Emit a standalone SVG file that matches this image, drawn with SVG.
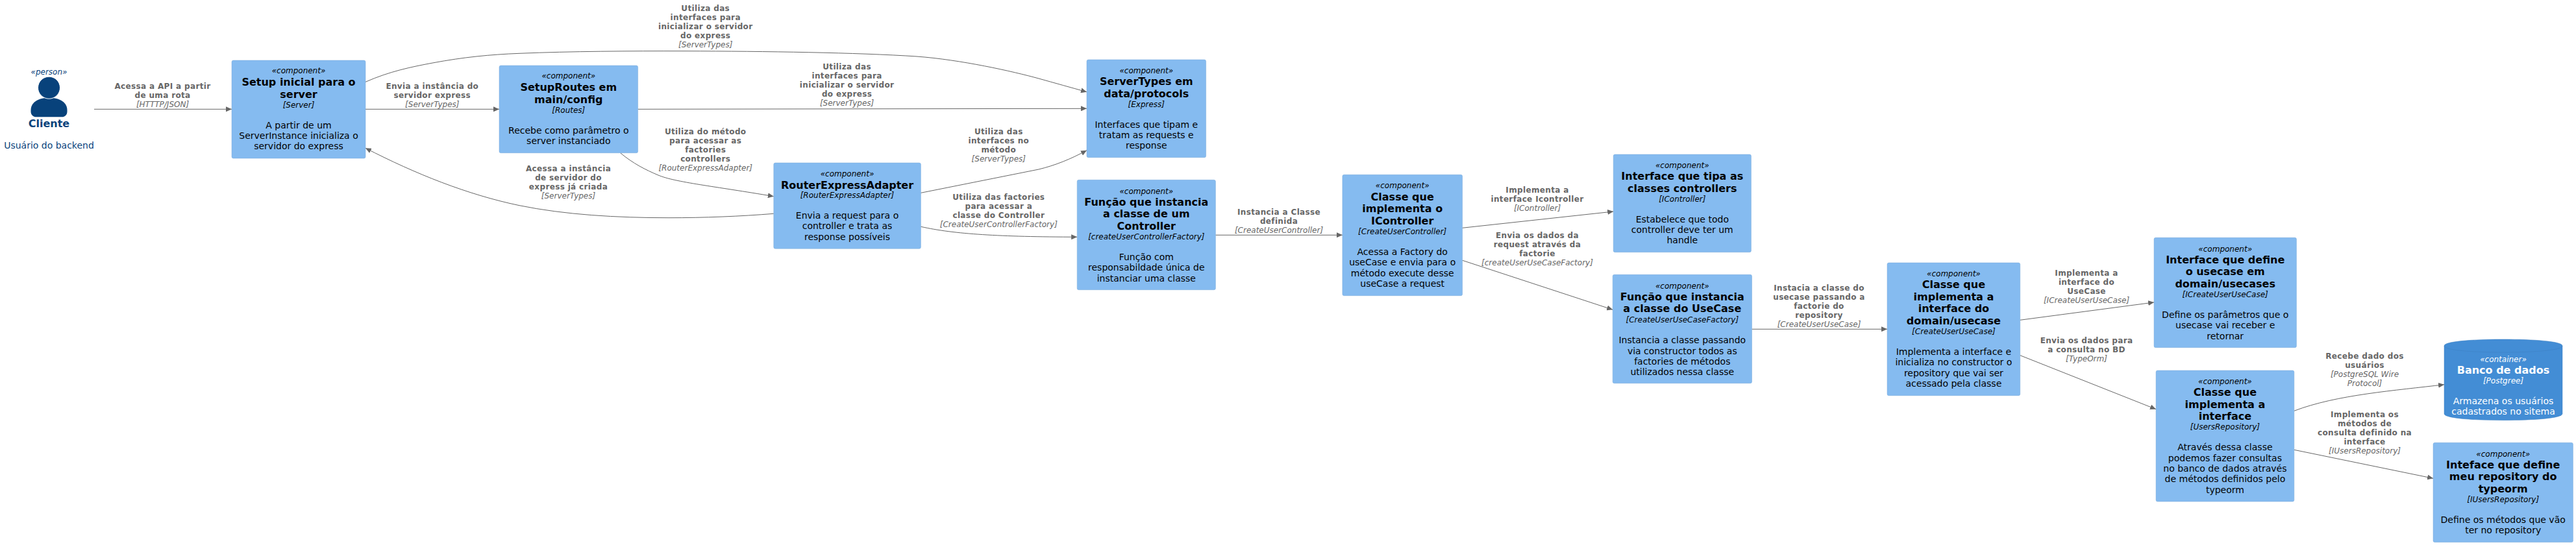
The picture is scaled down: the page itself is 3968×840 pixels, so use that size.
<svg xmlns="http://www.w3.org/2000/svg" width="3968" height="840" viewBox="0 0 3968 840">
<style>
text{font-family:"DejaVu Sans",sans-serif;text-anchor:middle;fill:#000}
.st{font-size:12px;font-style:italic}
.ti{font-size:16px;font-weight:bold}
.de{font-size:14px}
.lb{font-size:12px;font-weight:bold;fill:#666;letter-spacing:.35px}
.lt{font-size:12px;font-style:italic;fill:#666}
.box{fill:#85BBF0;stroke:#78A8D8;stroke-width:.5}
.w text{fill:#fff}
.p text{fill:#08427B}
.c{fill:none;stroke:#666;stroke-width:1}
</style>
<defs>
<marker id="a" markerUnits="userSpaceOnUse" markerWidth="10" markerHeight="8" refX="9" refY="4" orient="auto"><path d="M0 0L9 4L0 8z" fill="#666"/></marker>
</defs>
<rect width="3968" height="840" fill="#fff"/>
<g id="connectors" class="conns">
<path class="c" marker-end="url(#a)" d="M145 168.3H357"/>
<path class="c" marker-end="url(#a)" d="M563 168.3H769"/>
<path class="c" marker-end="url(#a)" d="M563 126.3C600 110 633 103.2 668 96.7C713 88.3 755 84 800 82.3C880 79 970 78.5 1055 78.7C1180 79 1320 81 1412 87C1480 92 1560 110 1600 121C1625 128 1650 135 1674 141.7"/>
<path class="c" marker-end="url(#a)" d="M982.6 168.3L1674 167.3"/>
<path class="c" marker-end="url(#a)" d="M1191.8 329.3C1140 333.5 1085 335.7 1030 335.7C950 335.7 870 331 800 316.7C720 300 640 268 563 228.3"/>
<path class="c" marker-end="url(#a)" d="M955.6 235.7C975 252 995 262 1014 270C1040 281 1100 287 1191.8 302.7"/>
<path class="c" marker-end="url(#a)" d="M1418.4 297.3L1600 261C1625 255 1650 245 1674 231.7"/>
<path class="c" marker-end="url(#a)" d="M1418.4 349.3C1470 361 1540 365 1659.2 365.3"/>
<path class="c" marker-end="url(#a)" d="M1872.4 362.3H2067.9"/>
<path class="c" marker-end="url(#a)" d="M2252.6 351.3L2485.2 326"/>
<path class="c" marker-end="url(#a)" d="M2252.6 401.3L2484.2 477.3"/>
<path class="c" marker-end="url(#a)" d="M2698.5 507.3H2907"/>
<path class="c" marker-end="url(#a)" d="M3111.7 493.3L3318 466"/>
<path class="c" marker-end="url(#a)" d="M3111.7 547.7L3321 630.7"/>
<path class="c" marker-end="url(#a)" d="M3533.8 633.3C3600 608 3690 602 3765 592.7"/>
<path class="c" marker-end="url(#a)" d="M3533.8 693.3L3748 737.3"/>
</g>
<g id="labels">
<g><text class="lb" x="250.5" y="136.7">Acessa a API a partir</text><text class="lb" x="250.5" y="150.7">de uma rota</text><text class="lt" x="250.5" y="164.7">[HTTTP/JSON]</text></g>
<g><text class="lb" x="665.8" y="136.7">Envia a instância do</text><text class="lb" x="665.8" y="150.7">servidor express</text><text class="lt" x="665.8" y="164.7">[ServerTypes]</text></g>
<g><text class="lb" x="1086.7" y="17.3">Utiliza das</text><text class="lb" x="1086.7" y="31.3">interfaces para</text><text class="lb" x="1086.7" y="45.3">inicializar o servidor</text><text class="lb" x="1086.7" y="59.3">do express</text><text class="lt" x="1086.7" y="73.3">[ServerTypes]</text></g>
<g><text class="lb" x="1304.6" y="107.3">Utiliza das</text><text class="lb" x="1304.6" y="121.3">interfaces para</text><text class="lb" x="1304.6" y="135.3">inicializar o servidor</text><text class="lb" x="1304.6" y="149.3">do express</text><text class="lt" x="1304.6" y="163.3">[ServerTypes]</text></g>
<g><text class="lb" x="875.5" y="264.3">Acessa a instância</text><text class="lb" x="875.5" y="278.3">de servidor do</text><text class="lb" x="875.5" y="292.3">express já criada</text><text class="lt" x="875.5" y="306.3">[ServerTypes]</text></g>
<g><text class="lb" x="1086.7" y="207.3">Utiliza do método</text><text class="lb" x="1086.7" y="221.3">para acessar as</text><text class="lb" x="1086.7" y="235.3">factories</text><text class="lb" x="1086.7" y="249.3">controllers</text><text class="lt" x="1086.7" y="263.3">[RouterExpressAdapter]</text></g>
<g><text class="lb" x="1538.3" y="207.3">Utiliza das</text><text class="lb" x="1538.3" y="221.3">interfaces no</text><text class="lb" x="1538.3" y="235.3">método</text><text class="lt" x="1538.3" y="249.3">[ServerTypes]</text></g>
<g><text class="lb" x="1538.3" y="308.3">Utiliza das factories</text><text class="lb" x="1538.3" y="322.3">para acessar a</text><text class="lb" x="1538.3" y="336.3">classe do Controller</text><text class="lt" x="1538.3" y="350.3">[CreateUserControllerFactory]</text></g>
<g><text class="lb" x="1970" y="330.7">Instancia a Classe</text><text class="lb" x="1970" y="344.7">definida</text><text class="lt" x="1970" y="358.7">[CreateUserController]</text></g>
<g><text class="lb" x="2368" y="296.7">Implementa a</text><text class="lb" x="2368" y="310.7">interface Icontroller</text><text class="lt" x="2368" y="324.7">[IController]</text></g>
<g><text class="lb" x="2368" y="366.7">Envia os dados da</text><text class="lb" x="2368" y="380.7">request através da</text><text class="lb" x="2368" y="394.7">factorie</text><text class="lt" x="2368" y="408.7">[createUserUseCaseFactory]</text></g>
<g><text class="lb" x="2802" y="447.7">Instacia a classe do</text><text class="lb" x="2802" y="461.7">usecase passando a</text><text class="lb" x="2802" y="475.7">factorie do</text><text class="lb" x="2802" y="489.7">repository</text><text class="lt" x="2802" y="503.7">[CreateUserUseCase]</text></g>
<g><text class="lb" x="3214" y="424.7">Implementa a</text><text class="lb" x="3214" y="438.7">interface do</text><text class="lb" x="3214" y="452.7">UseCase</text><text class="lt" x="3214" y="466.7">[ICreateUserUseCase]</text></g>
<g><text class="lb" x="3214" y="528.7">Envia os dados para</text><text class="lb" x="3214" y="542.7">a consulta no BD</text><text class="lt" x="3214" y="556.7">[TypeOrm]</text></g>
<g><text class="lb" x="3642.5" y="552.7">Recebe dado dos</text><text class="lb" x="3642.5" y="566.7">usuários</text><text class="lt" x="3642.5" y="580.7">[PostgreSQL Wire</text><text class="lt" x="3642.5" y="594.7">Protocol]</text></g>
<g><text class="lb" x="3642.5" y="642.7">Implementa os</text><text class="lb" x="3642.5" y="656.7">métodos de</text><text class="lb" x="3642.5" y="670.7">consulta definido na</text><text class="lb" x="3642.5" y="684.7">interface</text><text class="lt" x="3642.5" y="698.7">[IUsersRepository]</text></g>
</g>
<g id="person-cliente" class="p">
<text class="st" x="75.5" y="115">«person»</text>
<path d="M47.5 170C47.5 158 58 150.7 75.5 150.7C93 150.7 103.5 158 103.5 170V172C103.5 177 100 180.3 95 180.3H56C51 180.3 47.5 177 47.5 172z" fill="#08427B"/>
<circle cx="75.5" cy="135.2" r="17" fill="#08427B" stroke="#fff" stroke-width="1"/>
<text class="ti" x="75.5" y="196">Cliente</text>
<text class="de" x="75.5" y="228.7">Usuário do backend</text>
</g>
<g id="setup-server"><rect class="box" x="357" y="93" width="206" height="151" rx="2.5"/>
<text class="st" x="460" y="113.3">«component»</text><text class="ti" x="460" y="132">Setup inicial para o</text><text class="ti" x="460" y="151">server</text><text class="st" x="460" y="165.7">[Server]</text><text class="de" x="460" y="197.7">A partir de um</text><text class="de" x="460" y="213.7">ServerInstance inicializa o</text><text class="de" x="460" y="229.7">servidor do express</text></g>
<g id="setup-routes"><rect class="box" x="769" y="101" width="213.6" height="134.7" rx="2.5"/>
<text class="st" x="875.8" y="121.3">«component»</text><text class="ti" x="875.8" y="140">SetupRoutes em</text><text class="ti" x="875.8" y="159">main/config</text><text class="st" x="875.8" y="173.7">[Routes]</text><text class="de" x="875.8" y="205.7">Recebe como parâmetro o</text><text class="de" x="875.8" y="221.7">server instanciado</text></g>
<g id="router-adapter"><rect class="box" x="1191.8" y="251" width="226.6" height="132.3" rx="2.5"/>
<text class="st" x="1305" y="272.3">«component»</text><text class="ti" x="1305" y="290.5">RouterExpressAdapter</text><text class="st" x="1305" y="305">[RouterExpressAdapter]</text><text class="de" x="1305" y="337">Envia a request para o</text><text class="de" x="1305" y="353">controller e trata as</text><text class="de" x="1305" y="369.7">response possíveis</text></g>
<g id="server-types"><rect class="box" x="1674" y="92" width="183.6" height="150.7" rx="2.5"/>
<text class="st" x="1765.8" y="113">«component»</text><text class="ti" x="1765.8" y="131">ServerTypes em</text><text class="ti" x="1765.8" y="150">data/protocols</text><text class="st" x="1765.8" y="165">[Express]</text><text class="de" x="1765.8" y="197">Interfaces que tipam e</text><text class="de" x="1765.8" y="213">tratam as requests e</text><text class="de" x="1765.8" y="229">response</text></g>
<g id="controller-factory"><rect class="box" x="1659.2" y="277.3" width="213.2" height="169.4" rx="2.5"/>
<text class="st" x="1765.8" y="298.7">«component»</text><text class="ti" x="1765.8" y="317">Função que instancia</text><text class="ti" x="1765.8" y="335">a classe de um</text><text class="ti" x="1765.8" y="354">Controller</text><text class="st" x="1765.8" y="369">[createUserControllerFactory]</text><text class="de" x="1765.8" y="401">Função com</text><text class="de" x="1765.8" y="417">responsabildade única de</text><text class="de" x="1765.8" y="434">instanciar uma classe</text></g>
<g id="create-user-controller"><rect class="box" x="2067.9" y="269.3" width="184.7" height="186.4" rx="2.5"/>
<text class="st" x="2160.2" y="290">«component»</text><text class="ti" x="2160.2" y="309">Classe que</text><text class="ti" x="2160.2" y="327">implementa o</text><text class="ti" x="2160.2" y="346">IController</text><text class="st" x="2160.2" y="361">[CreateUserController]</text><text class="de" x="2160.2" y="393">Acessa a Factory do</text><text class="de" x="2160.2" y="409">useCase e envia para o</text><text class="de" x="2160.2" y="426">método execute desse</text><text class="de" x="2160.2" y="442">useCase a request</text></g>
<g id="icontroller"><rect class="box" x="2485.2" y="238" width="212.2" height="150.7" rx="2.5"/>
<text class="st" x="2591.3" y="259">«component»</text><text class="ti" x="2591.3" y="277">Interface que tipa as</text><text class="ti" x="2591.3" y="296">classes controllers</text><text class="st" x="2591.3" y="311">[IController]</text><text class="de" x="2591.3" y="343">Estabelece que todo</text><text class="de" x="2591.3" y="359">controller deve ter um</text><text class="de" x="2591.3" y="375">handle</text></g>
<g id="usecase-factory"><rect class="box" x="2484.2" y="423.3" width="214.3" height="167.4" rx="2.5"/>
<text class="st" x="2591.3" y="444.7">«component»</text><text class="ti" x="2591.3" y="463">Função que instancia</text><text class="ti" x="2591.3" y="481">a classe do UseCase</text><text class="st" x="2591.3" y="497">[CreateUserUseCaseFactory]</text><text class="de" x="2591.3" y="529">Instancia a classe passando</text><text class="de" x="2591.3" y="546">via constructor todos as</text><text class="de" x="2591.3" y="562">factories de métodos</text><text class="de" x="2591.3" y="578">utilizados nessa classe</text></g>
<g id="create-user-usecase"><rect class="box" x="2907" y="405" width="204.7" height="204.7" rx="2.5"/>
<text class="st" x="3009.4" y="426">«component»</text><text class="ti" x="3009.4" y="444">Classe que</text><text class="ti" x="3009.4" y="463">implementa a</text><text class="ti" x="3009.4" y="481">interface do</text><text class="ti" x="3009.4" y="500">domain/usecase</text><text class="st" x="3009.4" y="515">[CreateUserUseCase]</text><text class="de" x="3009.4" y="547">Implementa a interface e</text><text class="de" x="3009.4" y="563">inicializa no constructor o</text><text class="de" x="3009.4" y="580">repository que vai ser</text><text class="de" x="3009.4" y="596">acessado pela classe</text></g>
<g id="icreate-user-usecase"><rect class="box" x="3318" y="366.3" width="219.4" height="169.4" rx="2.5"/>
<text class="st" x="3427.7" y="388">«component»</text><text class="ti" x="3427.7" y="406">Interface que define</text><text class="ti" x="3427.7" y="424">o usecase em</text><text class="ti" x="3427.7" y="443">domain/usecases</text><text class="st" x="3427.7" y="458">[ICreateUserUseCase]</text><text class="de" x="3427.7" y="490">Define os parâmetros que o</text><text class="de" x="3427.7" y="506">usecase vai receber e</text><text class="de" x="3427.7" y="523">retornar</text></g>
<g id="users-repository"><rect class="box" x="3321" y="571" width="212.8" height="202" rx="2.5"/>
<text class="st" x="3427.4" y="592">«component»</text><text class="ti" x="3427.4" y="610">Classe que</text><text class="ti" x="3427.4" y="629">implementa a</text><text class="ti" x="3427.4" y="647">interface</text><text class="st" x="3427.4" y="662">[UsersRepository]</text><text class="de" x="3427.4" y="694">Através dessa classe</text><text class="de" x="3427.4" y="711">podemos fazer consultas</text><text class="de" x="3427.4" y="727">no banco de dados através</text><text class="de" x="3427.4" y="743">de métodos definidos pelo</text><text class="de" x="3427.4" y="760">typeorm</text></g>
<g id="banco-de-dados" class="w">
<path d="M3765 533C3765 526 3810 523 3856 523C3902 523 3947 526 3947 533V637.7C3947 644.7 3902 647.7 3856 647.7C3810 647.7 3765 644.7 3765 637.7z" fill="#438DD5" stroke="#3C7FC0" stroke-width=".5"/>
<path d="M3765 533C3765 540 3810 543 3856 543C3902 543 3947 540 3947 533" fill="none" stroke="#3C7FC0" stroke-width=".5"/>
<text class="st" x="3856" y="558">«container»</text><text class="ti" x="3856" y="575.7">Banco de dados</text><text class="st" x="3856" y="591">[Postgree]</text><text class="de" x="3856" y="622.7">Armazena os usuários</text><text class="de" x="3856" y="638.7">cadastrados no sitema</text></g>
<g id="iusers-repository"><rect class="box" x="3748" y="682.3" width="215.4" height="153.4" rx="2.5"/>
<text class="st" x="3855.7" y="704">«component»</text><text class="ti" x="3855.7" y="722">Inteface que define</text><text class="ti" x="3855.7" y="740">meu repository do</text><text class="ti" x="3855.7" y="759">typeorm</text><text class="st" x="3855.7" y="774">[IUsersRepository]</text><text class="de" x="3855.7" y="806">Define os métodos que vão</text><text class="de" x="3855.7" y="822">ter no repository</text></g>
</svg>
